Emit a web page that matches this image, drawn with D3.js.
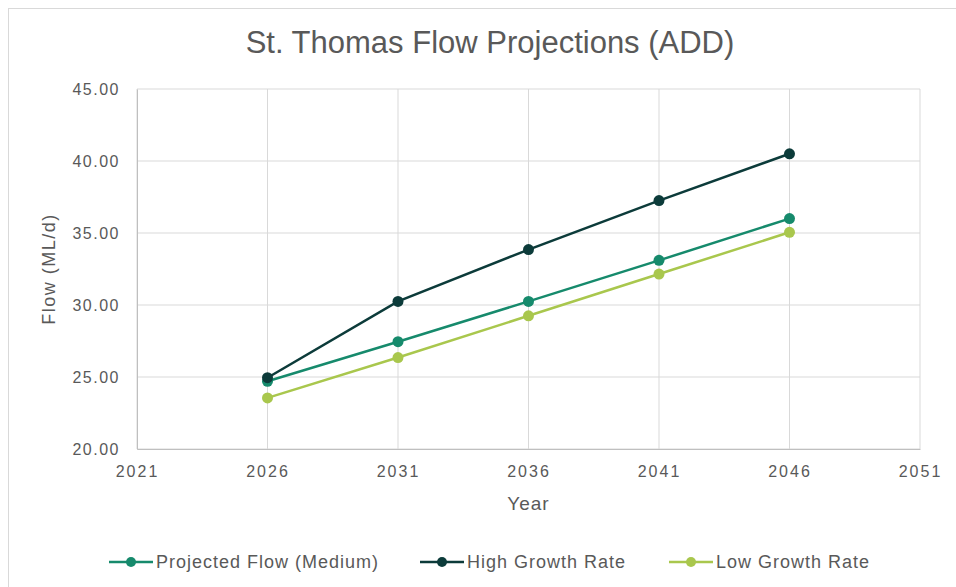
<!DOCTYPE html>
<html>
<head>
<meta charset="utf-8">
<script src="https://cdn.jsdelivr.net/npm/d3@7"></script>
<style>
  body { margin: 0; background: #fff; }
  svg { font-family: "Liberation Sans", Arial, sans-serif; }
</style>
</head>
<body>
<div id="chart"></div>
<script>
// years and series values
const years = [2026, 2031, 2036, 2041, 2046];
const medium = [24.7, 27.45, 30.25, 33.1, 36.0];
const high = [24.95, 30.25, 33.85, 37.25, 40.5];
const low = [23.55, 26.35, 29.25, 32.15, 35.05];
const seriesNames = ["Projected Flow (Medium)", "High Growth Rate", "Low Growth Rate"];
const seriesColors = ["#168a6c", "#0c3b3a", "#a9c74d"];
const xTicks = [2021, 2026, 2031, 2036, 2041, 2046, 2051];
const yTicks = [20, 25, 30, 35, 40, 45];

const W = 956, H = 587;
const margin = {top: 89, right: 36, bottom: 138, left: 137};
const width = W - margin.left - margin.right,
      height = H - margin.top - margin.bottom;

const svg = d3.select("#chart").append("svg")
  .attr("width", W).attr("height", H);

// outer chart border
svg.append("rect")
  .attr("x", 8.5).attr("y", 8.5)
  .attr("width", W).attr("height", H)
  .attr("fill", "none").attr("stroke", "#d9d9d9");

const g = svg.append("g")
  .attr("transform", "translate(" + margin.left + "," + margin.top + ")");

const x = d3.scaleLinear().domain([2021, 2051]).range([0, width]);
const y = d3.scaleLinear().domain([20, 45]).range([height, 0]);

// grid lines
g.append("g").selectAll("line").data(yTicks).enter().append("line")
  .attr("x1", 0).attr("x2", width)
  .attr("y1", d => y(d)).attr("y2", d => y(d))
  .attr("stroke", "#d9d9d9");
g.append("g").selectAll("line").data(xTicks).enter().append("line")
  .attr("x1", d => x(d)).attr("x2", d => x(d))
  .attr("y1", 0).attr("y2", height)
  .attr("stroke", "#d9d9d9");

// axes
const yAxis = g.append("g")
  .call(d3.axisLeft(y).tickValues(yTicks).tickFormat(d3.format(".2f")).tickSize(0).tickPadding(17));
yAxis.select(".domain").attr("stroke", "#bfbfbf");
yAxis.selectAll("text").attr("fill", "#595959")
  .style("font-size", "16px").style("letter-spacing", "1.5px");

const xAxis = g.append("g")
  .attr("transform", "translate(0," + height + ")")
  .call(d3.axisBottom(x).tickValues(xTicks).tickFormat(d3.format("d")).tickSize(0).tickPadding(17));
xAxis.select(".domain").attr("stroke", "#bfbfbf");
xAxis.selectAll("text").attr("fill", "#595959")
  .style("font-size", "16px").style("letter-spacing", "2px");

// title and axis titles
svg.append("text")
  .attr("x", 490).attr("y", 53)
  .attr("text-anchor", "middle")
  .attr("fill", "#595959")
  .style("font-size", "31px")
  .text("St. Thomas Flow Projections (ADD)");

svg.append("text")
  .attr("transform", "translate(55," + (margin.top + height / 2) + ") rotate(-90)")
  .attr("text-anchor", "middle")
  .attr("fill", "#595959")
  .style("font-size", "18px")
  .style("letter-spacing", "1.5px")
  .text("Flow (ML/d)");

svg.append("text")
  .attr("x", margin.left + width / 2).attr("y", 510)
  .attr("text-anchor", "middle")
  .attr("fill", "#595959")
  .style("font-size", "19px")
  .style("letter-spacing", "1px")
  .text("Year");

// series
const allSeries = [medium, high, low].map((vals, i) => ({
  name: seriesNames[i], color: seriesColors[i],
  values: years.map((yr, j) => ({year: yr, value: vals[j]}))
}));

const line = d3.line().x(d => x(d.year)).y(d => y(d.value));

// draw low first, then medium, then high on top
[2, 0, 1].forEach(i => {
  const s = allSeries[i];
  g.append("path")
    .datum(s.values)
    .attr("fill", "none")
    .attr("stroke", s.color)
    .attr("stroke-width", 2.5)
    .attr("d", line);
  g.append("g").selectAll("circle").data(s.values).enter().append("circle")
    .attr("cx", d => x(d.year)).attr("cy", d => y(d.value))
    .attr("r", 5.5)
    .attr("fill", s.color);
});

// legend
const legendX = [109, 420, 669];
const legend = svg.append("g").selectAll("g").data(allSeries).enter().append("g")
  .attr("transform", (d, i) => "translate(" + legendX[i] + ",562)");
legend.append("line")
  .attr("x1", 0).attr("x2", 44).attr("y1", 0).attr("y2", 0)
  .attr("stroke", d => d.color).attr("stroke-width", 2.5);
legend.append("circle")
  .attr("cx", 22).attr("cy", 0).attr("r", 5)
  .attr("fill", d => d.color);
legend.append("text")
  .attr("x", 47).attr("y", 0).attr("dy", "0.35em")
  .attr("fill", "#595959")
  .style("font-size", "18px")
  .style("letter-spacing", "1px")
  .text(d => d.name);
</script>
</body>
</html>
